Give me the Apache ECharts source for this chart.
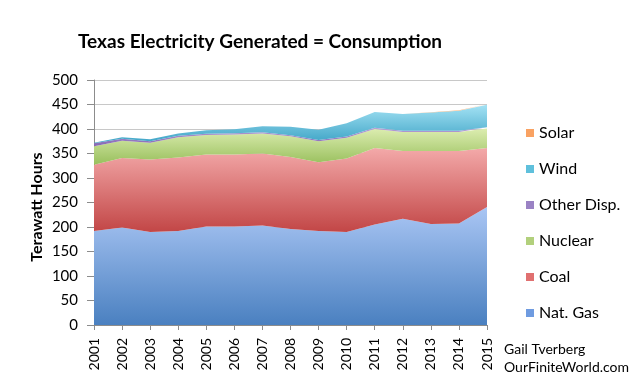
<!DOCTYPE html>
<html>
<head>
<meta charset="utf-8">
<script src="https://cdn.jsdelivr.net/npm/echarts@6/dist/echarts.min.js"></script>
<style>html,body{margin:0;padding:0;background:#fff;}#c{width:640px;height:385px;}</style>
</head>
<body>
<div id="c"></div>
<script>
var years = ['2001','2002','2003','2004','2005','2006','2007','2008','2009','2010','2011','2012','2013','2014','2015'];
var natGas  = [192,199,190,192,201,201,203,196,192,190,205,217,206,207,241];
var coal    = [135,142,148,150,147,147,147,147,140,150,156,138,149,148,120];
var nuclear = [38,35,34,41,40,41,41,42,43,42,39,39,39,39,40];
var otherDisp = [6,4,3,3,2.5,2.5,2.5,2.5,2.5,2.5,2.5,2.5,2.5,2.5,2.5];
var wind    = [1,3,4,5,7,8,12,17,21,27,32,34,37,41,46];
var solar   = [0,0,0,0,0,0,0,0,0,0,0.2,0.3,0.5,0.7,1];
var yTicks = [0,50,100,150,200,250,300,350,400,450,500];

var FONT = 'Lato, "Open Sans", sans-serif';
function grad(top, bottom){
  return {type:'linear',x:0,y:0,x2:0,y2:1,colorStops:[{offset:0,color:top},{offset:1,color:bottom}]};
}
function mk(name, data, flat, top, bottom){
  return {
    name:name, type:'line', stack:'total', data:data,
    symbol:'none', showSymbol:false, smooth:false,
    lineStyle:{width:0},
    itemStyle:{color:flat},
    areaStyle:{color:grad(top,bottom), opacity:1},
    emphasis:{disabled:true}
  };
}
var chart = echarts.init(document.getElementById('c'), null, {renderer:'canvas'});
chart.setOption({
  animation:false,
  backgroundColor:'#fff',
  title:{
    text:'Texas Electricity Generated = Consumption',
    left:73, top:27,
    textStyle:{fontFamily:FONT, fontWeight:'bold', fontSize:19, color:'#000'}
  },
  legend:{
    orient:'vertical', left:521, top:120,
    data:['Solar','Wind','Other Disp.','Nuclear','Coal','Nat. Gas'],
    icon:'rect', itemWidth:8, itemHeight:8, itemGap:20,
    textStyle:{fontFamily:FONT, fontSize:16, color:'#000'},
    selectedMode:false
  },
  grid:{left:94, right:153, top:80, bottom:60, containLabel:false},
  xAxis:{
    type:'category', data:years, boundaryGap:false,
    axisLine:{lineStyle:{color:'#8c8c8c'}},
    axisTick:{show:true, alignWithLabel:true, length:5, lineStyle:{color:'#8c8c8c'}},
    axisLabel:{rotate:90, fontFamily:FONT, fontSize:14, color:'#000', margin:13, interval:0}
  },
  yAxis:{
    type:'value', min:0, max:500, interval:50,
    axisLine:{show:true, lineStyle:{color:'#8c8c8c'}},
    axisTick:{show:true, length:7, lineStyle:{color:'#8c8c8c'}},
    axisLabel:{fontFamily:FONT, fontSize:15, color:'#000', margin:16,
      formatter:function(v){ return yTicks.indexOf(v)>=0 ? String(v) : ''; }},
    splitLine:{show:true, lineStyle:{color:'#c8c8c8', width:1}}
  },
  graphic:[
    {type:'text', x:37, y:207, rotation:Math.PI/2,
      style:{text:'Terawatt Hours', fontFamily:FONT, fontWeight:'bold', fontSize:16, fill:'#000', align:'center', verticalAlign:'middle'}},
    {type:'text', left:504, top:342, style:{text:'Gail Tverberg', fontFamily:FONT, fontSize:14, fill:'#000'}},
    {type:'text', left:504, top:360, style:{text:'OurFiniteWorld.com', fontFamily:FONT, fontSize:14, fill:'#000'}}
  ],
  series:[
    mk('Nat. Gas', natGas, '#6f9be0', '#aac6f4', '#4a80c0'),
    mk('Coal', coal, '#e07070', '#f3a9a9', '#c24646'),
    mk('Nuclear', nuclear, '#b2d07c', '#dcedb0', '#98bf5c'),
    mk('Other Disp.', otherDisp, '#9a82c4', '#b8a4d8', '#8466b4'),
    mk('Wind', wind, '#5fc0dc', '#a4e2f4', '#3ea4c6'),
    mk('Solar', solar, '#f9a262', '#fbbb86', '#f48c3c')
  ]
});
</script>
</body>
</html>
